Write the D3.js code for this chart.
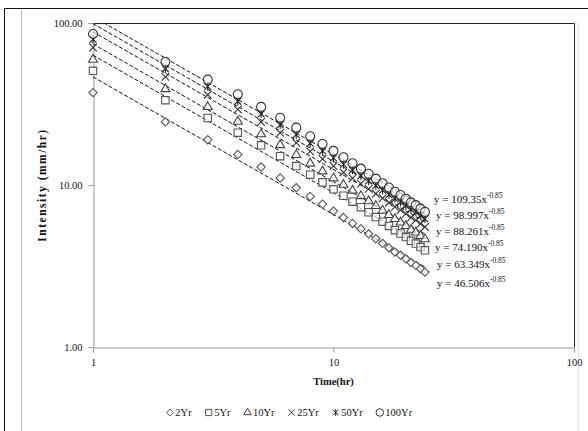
<!DOCTYPE html>
<html>
<head>
  <script src="https://d3js.org/d3.v7.min.js"></script>
  <style>
    body { margin: 0; background: #fff; }
    text { font-family: "Liberation Serif", "Times New Roman", serif; fill: #111; }
    .axis path, .axis line { stroke: #999; }
    .axis text { font-size: 10.5px; }
  </style>
</head>
<body>
<svg id="svg" width="588" height="431"></svg>
<script>
// ---------------- data ----------------
const hours = [1, 2, 3, 4, 5, 6, 7, 8, 9, 10, 11, 12, 13, 14, 15, 16, 17, 18, 19, 20, 21, 22, 23, 24];
const seriesNames = ["2Yr", "5Yr", "10Yr", "25Yr", "50Yr", "100Yr"];

const yr2   = [37.2, 24.51, 19.02, 15.44, 12.91, 11.05, 9.61, 8.50, 7.62, 6.90, 6.30, 5.79, 5.36, 4.99, 4.66, 4.36, 4.10, 3.86, 3.69, 3.50, 3.32, 3.19, 3.04, 2.90];
const yr5   = [50.7, 33.38, 25.91, 21.03, 17.58, 15.06, 13.09, 11.58, 10.38, 9.40, 8.58, 7.89, 7.30, 6.79, 6.34, 5.94, 5.59, 5.26, 5.02, 4.77, 4.52, 4.35, 4.14, 3.95];
const yr10  = [59.4, 39.10, 30.34, 24.63, 20.59, 17.64, 15.33, 13.56, 12.15, 11.01, 10.05, 9.24, 8.55, 7.95, 7.43, 6.96, 6.54, 6.17, 5.88, 5.59, 5.30, 5.10, 4.85, 4.63];
const yr25  = [70.6, 46.51, 36.10, 29.30, 24.49, 20.98, 18.23, 16.13, 14.46, 13.10, 11.96, 11.00, 10.18, 9.46, 8.83, 8.28, 7.78, 7.33, 7.00, 6.65, 6.30, 6.06, 5.77, 5.51];
const yr50  = [79.2, 52.17, 40.49, 32.87, 27.47, 23.53, 20.45, 18.10, 16.22, 14.69, 13.41, 12.34, 11.41, 10.61, 9.91, 9.29, 8.73, 8.23, 7.85, 7.45, 7.07, 6.80, 6.47, 6.18];
const yr100 = [85.5, 57.63, 44.72, 36.30, 30.34, 25.99, 22.59, 19.99, 17.91, 16.23, 14.82, 13.62, 12.61, 11.72, 10.95, 10.26, 9.64, 9.09, 8.67, 8.23, 7.81, 7.51, 7.15, 6.82];

// power trendlines y = a * x^b
const coefs = [46.506, 63.349, 74.190, 88.261, 98.997, 109.35];
const coefLabels = ["46.506", "63.349", "74.190", "88.261", "98.997", "109.35"];
const exponent = -0.85;
const exponentLabel = "-0.85";

const xTicks = [1, 10, 100];
const yTicks = [1, 10, 100];

const allSeries = [yr2, yr5, yr10, yr25, yr50, yr100];

// ---------------- layout ----------------
const svg = d3.select("#svg");
const plot = { left: 93, right: 574, top: 23, bottom: 347 };

// outer frame
svg.append("line").attr("x1", 4).attr("x2", 588).attr("y1", 8.5).attr("y2", 8.5).attr("stroke", "#111");
svg.append("line").attr("x1", 4.5).attr("x2", 4.5).attr("y1", 8).attr("y2", 431).attr("stroke", "#111");
svg.append("line").attr("x1", 21.5).attr("x2", 21.5).attr("y1", 10).attr("y2", 431).attr("stroke", "#bbb");
svg.append("line").attr("x1", 578.5).attr("x2", 578.5).attr("y1", 22).attr("y2", 431).attr("stroke", "#e2e2e2");

const xScale = d3.scaleLog().domain([1, 100]).range([plot.left, plot.right]);
const yScale = d3.scaleLog().domain([1, 100]).range([plot.bottom, plot.top]);

// plot border (top/right dark)
svg.append("path")
  .attr("d", `M${plot.left},${plot.top + 0.5}H${plot.right + 0.5}V${plot.bottom}`)
  .attr("fill", "none").attr("stroke", "#222");

// axes
svg.append("g").attr("class", "axis")
  .attr("transform", `translate(0,${plot.bottom + 0.5})`)
  .call(d3.axisBottom(xScale).tickValues(xTicks).tickFormat(d3.format("d")).tickSizeOuter(0).tickSize(5).tickPadding(6));
svg.append("g").attr("class", "axis")
  .attr("transform", `translate(${plot.left + 0.5},0)`)
  .call(d3.axisLeft(yScale).tickValues(yTicks).tickFormat(d3.format(".2f")).tickSizeOuter(0).tickSize(5).tickPadding(6));
svg.selectAll(".axis text").attr("fill", "#111");

// axis titles
svg.append("text").attr("x", (plot.left + plot.right) / 2).attr("y", 385)
  .attr("text-anchor", "middle").attr("font-size", 10.5).attr("font-weight", "bold").text("Time(hr)");
svg.append("text").attr("transform", `translate(46,${(plot.top + plot.bottom) / 2}) rotate(-90)`)
  .attr("text-anchor", "middle").attr("font-size", 11.5).attr("letter-spacing", 1.5)
  .attr("font-weight", "bold").text("Intensity (mm/hr)");

// clip
svg.append("clipPath").attr("id", "clip").append("rect")
  .attr("x", plot.left).attr("y", plot.top).attr("width", plot.right - plot.left).attr("height", plot.bottom - plot.top);

// symbols
const symbolStar = {
  draw(ctx, size) {
    const r = Math.sqrt(size) / 2;
    ctx.moveTo(-r, -r); ctx.lineTo(r, r);
    ctx.moveTo(-r, r); ctx.lineTo(r, -r);
    ctx.moveTo(0, -r * 1.2); ctx.lineTo(0, r * 1.2);
  }
};
const symbolTypes = [
  d3.symbolDiamond2 || d3.symbolDiamond,
  d3.symbolSquare2 || d3.symbolSquare,
  d3.symbolTriangle2 || d3.symbolTriangle,
  d3.symbolX || d3.symbolCross,
  symbolStar,
  d3.symbolCircle
];
const symbolSizes = [44, 70, 58, 40, 48, 64];
const markerStroke = ["#555", "#555", "#444", "#333", "#222", "#333"];

// trendlines
const lineGen = d3.line().x(d => xScale(d[0])).y(d => yScale(d[1]));
const trendGroup = svg.append("g").attr("clip-path", "url(#clip)");
coefs.forEach((a, i) => {
  const t0 = hours[0], t1 = hours[hours.length - 1];
  trendGroup.append("path")
    .attr("d", lineGen([[t0, a * Math.pow(t0, exponent)], [t1, a * Math.pow(t1, exponent)]]))
    .attr("fill", "none").attr("stroke", "#111").attr("stroke-width", 1)
    .attr("stroke-dasharray", "4,2");
});

// markers
allSeries.forEach((vals, i) => {
  const sym = d3.symbol().type(symbolTypes[i]).size(symbolSizes[i]);
  svg.append("g").selectAll("path")
    .data(vals.map((v, k) => [hours[k], v]))
    .join("path")
    .attr("transform", d => `translate(${xScale(d[0])},${yScale(d[1])})`)
    .attr("d", sym)
    .attr("fill", (i === 3 || i === 4) ? "none" : "white")
    .attr("fill-opacity", 0.6)
    .attr("stroke", markerStroke[i]).attr("stroke-width", 1.1);
});

// equation labels
const eqY = [283, 264, 247, 231, 215, 199];
const eqX = [437, 437, 435, 436, 436, 434];
coefLabels.forEach((c, i) => {
  const t = svg.append("text").attr("x", eqX[i]).attr("y", eqY[i] + 4).attr("font-size", 11);
  t.append("tspan").text(`y = ${c}x`);
  t.append("tspan").attr("dy", -5).attr("font-size", 7.5).text(exponentLabel);
});

// legend
const legend = svg.append("g");
let lx = 0;
seriesNames.forEach((name, i) => {
  const g = legend.append("g").attr("transform", `translate(${lx},0)`);
  g.append("path").attr("d", d3.symbol().type(symbolTypes[i]).size(symbolSizes[i] * 0.7))
    .attr("transform", "translate(4,-3.5)")
    .attr("fill", "none").attr("stroke", markerStroke[i]);
  const txt = g.append("text").attr("x", 9.5).attr("y", 0).attr("font-size", 10.5).text(name);
  lx += 9.5 + txt.node().getComputedTextLength() + 13;
});
const legendWidth = lx - 13;
legend.attr("transform", `translate(${289 - legendWidth / 2},416)`);
</script>
</body>
</html>
